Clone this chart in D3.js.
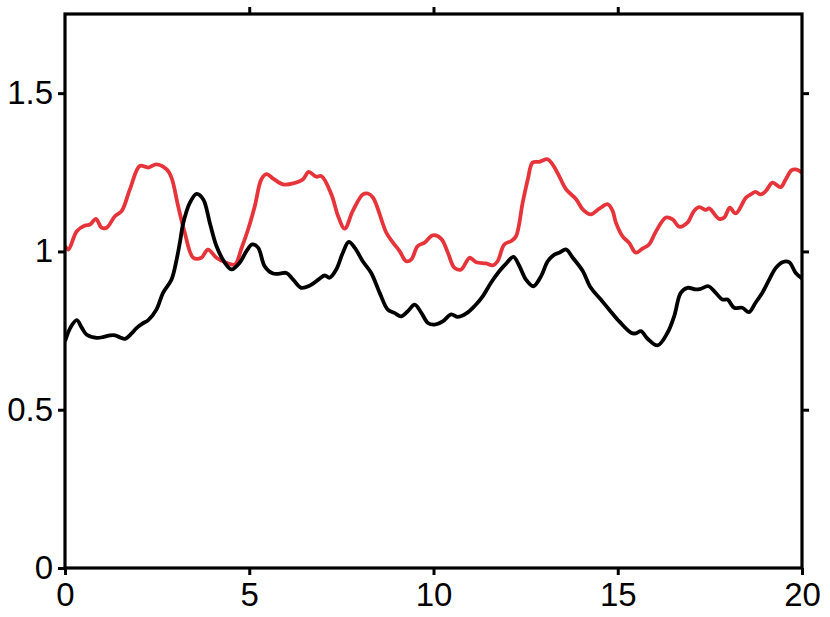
<!DOCTYPE html>
<html>
<head>
<meta charset="utf-8">
<script src="https://cdn.jsdelivr.net/npm/d3@7"></script>
<style>
body { margin: 0; background: #fff; }
svg { display: block; }
text { font-family: "Liberation Sans", Arial, sans-serif; }
</style>
</head>
<body>
<svg id="chart"></svg>
<script>
// axis ticks
var xTicks = [0, 5, 10, 15, 20];
var yTicks = [0, 0.5, 1, 1.5];
var yTickLabels = ['0', '0.5', '1', '1.5'];

// black series
var blackX = [0, 0.15, 0.32, 0.45, 0.59, 0.86, 1.05, 1.22, 1.36, 1.5, 1.63, 1.8, 1.94, 2.1, 2.26, 2.48, 2.66, 2.89, 3.03, 3.12,
	3.21, 3.39, 3.57, 3.75, 3.93, 4.11, 4.34, 4.52, 4.74, 4.92, 5.08, 5.24, 5.42, 5.65, 5.83, 6.01, 6.19, 6.41, 6.64, 6.91,
	7.05, 7.18, 7.36, 7.54, 7.7, 7.86, 8.08, 8.31, 8.54, 8.76, 8.94, 9.12, 9.3, 9.49, 9.67, 9.85, 10.03, 10.25, 10.48, 10.66,
	10.89, 11.11, 11.34, 11.56, 11.79, 11.99, 12.17, 12.33, 12.51, 12.71, 12.92, 13.1, 13.28, 13.41, 13.6, 13.78, 14.05, 14.27, 14.54, 14.77,
	15.04, 15.36, 15.49, 15.63, 15.81, 16.08, 16.35, 16.53, 16.71, 16.89, 17.12, 17.25, 17.46, 17.66, 17.84, 17.98, 18.16, 18.38, 18.56, 18.74,
	18.92, 19.11, 19.29, 19.47, 19.65, 19.83, 20];
var blackY = [0.716, 0.76, 0.783, 0.76, 0.737, 0.727, 0.73, 0.735, 0.735, 0.728, 0.724, 0.74, 0.758, 0.772, 0.783, 0.816, 0.869, 0.911, 0.975, 1.03,
	1.09, 1.154, 1.182, 1.165, 1.09, 1.017, 0.964, 0.943, 0.964, 1.0, 1.022, 1.012, 0.953, 0.93, 0.93, 0.932, 0.911, 0.885, 0.892, 0.914,
	0.924, 0.917, 0.943, 0.996, 1.03, 1.012, 0.969, 0.932, 0.869, 0.816, 0.806, 0.795, 0.811, 0.832, 0.806, 0.774, 0.769, 0.779, 0.801, 0.793,
	0.804, 0.827, 0.859, 0.901, 0.938, 0.964, 0.983, 0.954, 0.911, 0.89, 0.922, 0.969, 0.99, 0.996, 1.006, 0.98, 0.938, 0.885, 0.848, 0.816,
	0.779, 0.743, 0.741, 0.748, 0.724, 0.703, 0.743, 0.795, 0.869, 0.885, 0.88, 0.882, 0.89, 0.869, 0.848, 0.848, 0.822, 0.822, 0.808, 0.838,
	0.869, 0.911, 0.948, 0.966, 0.966, 0.932, 0.915];

// red series
var redX = [0, 0.09, 0.32, 0.54, 0.68, 0.84, 0.99, 1.13, 1.36, 1.54, 1.76, 2.03, 2.26, 2.48, 2.76, 2.89, 3.07, 3.25, 3.48, 3.7,
	3.88, 4.11, 4.38, 4.61, 4.79, 4.97, 5.15, 5.33, 5.47, 5.65, 5.92, 6.19, 6.46, 6.61, 6.82, 6.96, 7.23, 7.41, 7.59, 7.81,
	8.08, 8.22, 8.36, 8.72, 8.9, 9.08, 9.26, 9.4, 9.57, 9.76, 9.98, 10.21, 10.39, 10.57, 10.75, 10.98, 11.16, 11.43, 11.61, 11.74,
	11.92, 12.11, 12.24, 12.42, 12.56, 12.69, 12.87, 13.1, 13.23, 13.41, 13.6, 13.87, 14.05, 14.27, 14.5, 14.73, 14.86, 14.95, 15.13, 15.31,
	15.49, 15.67, 15.85, 16.04, 16.31, 16.49, 16.67, 16.89, 17.07, 17.21, 17.39, 17.48, 17.75, 17.89, 18.04, 18.2, 18.48, 18.61, 18.74, 18.88,
	19.02, 19.2, 19.42, 19.56, 19.72, 19.83, 20];
var redY = [1.017, 1.006, 1.064, 1.082, 1.085, 1.103, 1.075, 1.075, 1.112, 1.128, 1.196, 1.27, 1.265, 1.275, 1.259, 1.233, 1.143, 1.059, 0.98, 0.98,
	1.006, 0.98, 0.964, 0.959, 1.01, 1.07, 1.143, 1.228, 1.244, 1.23, 1.212, 1.215, 1.228, 1.251, 1.236, 1.238, 1.18, 1.112, 1.072, 1.128,
	1.18, 1.183, 1.17, 1.059, 1.028, 1.001, 0.969, 0.975, 1.017, 1.028, 1.051, 1.04, 0.996, 0.948, 0.943, 0.98, 0.966, 0.962, 0.956, 0.969,
	1.022, 1.033, 1.048, 1.154, 1.228, 1.281, 1.283, 1.291, 1.275, 1.238, 1.196, 1.165, 1.133, 1.117, 1.135, 1.149, 1.128, 1.091, 1.048, 1.027,
	0.996, 1.009, 1.022, 1.064, 1.107, 1.101, 1.078, 1.091, 1.128, 1.14, 1.131, 1.136, 1.103, 1.107, 1.138, 1.12, 1.17, 1.18, 1.188, 1.18,
	1.191, 1.217, 1.203, 1.228, 1.257, 1.259, 1.249];

var width = 830, height = 617;
var plotLeft = 65, plotRight = 802, plotTop = 14, plotBottom = 568;
var tickLen = 7;

var svg = d3.select('#chart').attr('width', width).attr('height', height);

var x = d3.scaleLinear().domain([0, 20]).range([plotLeft, plotRight]);
var y = d3.scaleLinear().domain([0, 1.75]).range([plotBottom, plotTop]);

// clip curves to the plot area
svg.append('clipPath').attr('id', 'plot').append('rect')
	.attr('x', plotLeft).attr('y', plotTop).attr('width', plotRight - plotLeft).attr('height', plotBottom - plotTop);

var line = d3.line().x(function(d) { return x(d[0]); }).y(function(d) { return y(d[1]); })
	.curve(d3.curveCatmullRom);

var curves = svg.append('g').attr('clip-path', 'url(#plot)');
curves.append('path').datum(d3.zip(redX, redY)).attr('d', line)
	.attr('fill', 'none').attr('stroke', '#e6343a').attr('stroke-width', 3.8).attr('stroke-linejoin', 'round');
curves.append('path').datum(d3.zip(blackX, blackY)).attr('d', line)
	.attr('fill', 'none').attr('stroke', '#000').attr('stroke-width', 3.8).attr('stroke-linejoin', 'round');

// axes, ticks outward on all four sides
function styleAxis(g) {
	g.select('.domain').remove();
	g.selectAll('.tick line').attr('stroke', '#000').attr('stroke-width', 3);
	g.selectAll('.tick text').attr('fill', '#000').style('font-size', '33px');
}

svg.append('g').attr('transform', 'translate(0,' + plotBottom + ')')
	.call(d3.axisBottom(x).tickValues(xTicks).tickFormat(d3.format('d')).tickSize(tickLen).tickPadding(8))
	.call(styleAxis);
svg.append('g').attr('transform', 'translate(0,' + plotTop + ')')
	.call(d3.axisTop(x).tickValues(xTicks.slice(1, -1)).tickFormat('').tickSize(tickLen))
	.call(styleAxis);
svg.append('g').attr('transform', 'translate(' + plotLeft + ',0)')
	.call(d3.axisLeft(y).tickValues(yTicks).tickFormat(function(d, i) { return yTickLabels[i]; }).tickSize(tickLen).tickPadding(5))
	.call(styleAxis);
svg.append('g').attr('transform', 'translate(' + plotRight + ',0)')
	.call(d3.axisRight(y).tickValues(yTicks.slice(1)).tickFormat('').tickSize(tickLen))
	.call(styleAxis);

// frame
svg.append('rect').attr('x', plotLeft).attr('y', plotTop).attr('width', plotRight - plotLeft).attr('height', plotBottom - plotTop)
	.attr('fill', 'none').attr('stroke', '#000').attr('stroke-width', 3.2);
</script>
</body>
</html>
